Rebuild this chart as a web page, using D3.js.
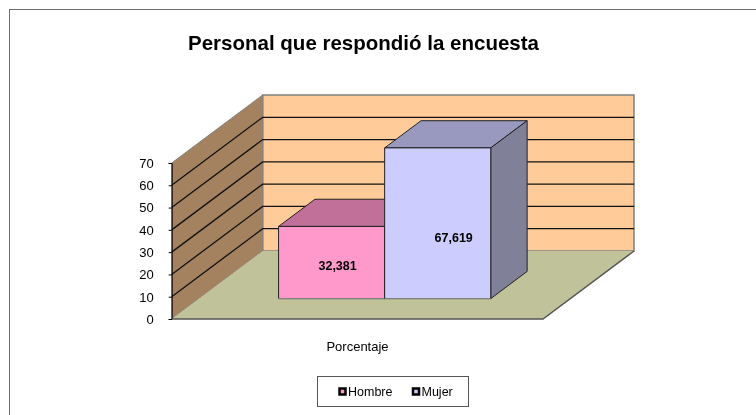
<!DOCTYPE html>
<html>
<head>
<meta charset="utf-8">
<script src="https://cdn.jsdelivr.net/npm/d3@7"></script>
<style>
  html, body { margin: 0; padding: 0; background: #fff; overflow: hidden; }
  svg { display: block; font-family: "Liberation Sans", Arial, sans-serif; filter: blur(0.35px); }
</style>
</head>
<body>
<svg id="chart" width="756" height="415"></svg>
<script>
const titleText = "Personal que respondió la encuesta"
const categories = ["Porcentaje"]
const seriesNames = ["Hombre", "Mujer"]
const seriesValues = [32.381, 67.619]
const valueLabels = ["32,381", "67,619"]
const tickValues = [0, 10, 20, 30, 40, 50, 60, 70]

const svg = d3.select("#chart")

// front plane of the 3d box, everything else is offset from it by depth
const x0 = 171.7, x1 = 543, yBase = 319, yTop = 163
const depthX = 91, depthY = -68
const barDepth = [0.30, 0.70]

const xBand = d3.scaleBand().domain(seriesNames).range([x0, x1]).paddingInner(0).paddingOuter(0.75)
const y = d3.scaleLinear().domain([0, 70]).range([yBase, yTop])

const colors = d3.scaleOrdinal().domain(seriesNames).range(["#ff99cc", "#ccccff"])
const topColors = d3.scaleOrdinal().domain(seriesNames).range(["#c07099", "#9999bf"])
const sideColors = d3.scaleOrdinal().domain(seriesNames).range(["#80607a", "#808099"])

const pt = (px, val, depth) => [px + depth * depthX, y(val) + depth * depthY]
const poly = pts => "M" + pts.map(p => p.join(",")).join("L") + "Z"

// outer frame, runs off the right and bottom of the picture
svg.append("rect").attr("x", 9.5).attr("y", 9.5).attr("width", 760).attr("height", 420)
  .attr("fill", "#fff").attr("stroke", "#6e6e6e").attr("stroke-width", 1)

svg.append("text").text(titleText)
  .attr("x", 363.5).attr("y", 50).attr("text-anchor", "middle")
  .style("font-size", "20.5px").style("font-weight", "bold").attr("fill", "#000")

// walls and floor
const wallStroke = "#808080"
svg.append("path")
  .attr("d", poly([pt(x0, 0, 1), pt(x1, 0, 1), pt(x1, 70, 1), pt(x0, 70, 1)]))
  .attr("fill", "#ffcc99").attr("stroke", wallStroke).attr("stroke-width", 1.5)
svg.append("path")
  .attr("d", poly([pt(x0, 0, 0), pt(x0, 0, 1), pt(x0, 70, 1), pt(x0, 70, 0)]))
  .attr("fill", "#a5825f").attr("stroke", wallStroke)
svg.append("path")
  .attr("d", poly([pt(x0, 0, 0), pt(x1, 0, 0), pt(x1, 0, 1), pt(x0, 0, 1)]))
  .attr("fill", "#c0c299").attr("stroke", "none")

// gridlines on side and back wall
const grid = svg.append("g").attr("fill", "none").attr("stroke", "#111").attr("stroke-width", 1.3)
tickValues.filter(t => t > 0 && t < 70).forEach(t => {
  grid.append("path").attr("d", d3.line()([pt(x0, t, 0), pt(x0, t, 1), pt(x1, t, 1)]))
})

// y axis on the front edge of the side wall
svg.append("g")
  .attr("transform", `translate(${x0},0)`)
  .call(d3.axisLeft(y).tickValues(tickValues).tickSize(3).tickPadding(15))
  .call(g => g.selectAll("text").attr("dy", "0.33em").style("font-size", "13px").style("font-family", "inherit").attr("fill", "#000"))
  .call(g => g.selectAll("line, path").attr("stroke", "#000"))

// front edge of the floor
svg.append("path")
  .attr("d", d3.line()([pt(x0, 0, 0), pt(x1, 0, 0), pt(x1, 0, 1)]))
  .attr("fill", "none").attr("stroke", "#555").attr("stroke-width", 1.5)

// bars, back to front
const bars = svg.selectAll("g.bar").data(seriesNames).join("g").attr("class", "bar")
  .attr("stroke", "#222").attr("stroke-width", 1).attr("stroke-linejoin", "round")

bars.each(function(name, i) {
  const g = d3.select(this)
  const a = xBand(name), b = a + xBand.bandwidth()
  const v = seriesValues[i]
  const [d0, d1] = barDepth
  g.append("path").attr("fill", topColors(name))
    .attr("d", poly([pt(a, v, d0), pt(b, v, d0), pt(b, v, d1), pt(a, v, d1)]))
  g.append("path").attr("fill", sideColors(name))
    .attr("d", poly([pt(b, 0, d0), pt(b, 0, d1), pt(b, v, d1), pt(b, v, d0)]))
  g.append("path").attr("fill", colors(name))
    .attr("d", poly([pt(a, 0, d0), pt(b, 0, d0), pt(b, v, d0), pt(a, v, d0)]))
  g.append("path").attr("fill", "none").attr("stroke", "#888")
    .attr("d", d3.line()([pt(a, 0, d0), pt(b, 0, d0)]))
})

// value labels, excel drops them off-centre on the front face
const labelShift = [[6, 3], [16, 15]]
svg.selectAll("text.value").data(seriesNames).join("text").attr("class", "value")
  .text((d, i) => valueLabels[i])
  .attr("x", (d, i) => pt(xBand(d) + xBand.bandwidth() / 2, 0, barDepth[0])[0] + labelShift[i][0])
  .attr("y", (d, i) => pt(0, seriesValues[i] / 2, barDepth[0])[1] + 4 + labelShift[i][1])
  .attr("text-anchor", "middle")
  .style("font-size", "12.5px").style("font-weight", "bold").attr("fill", "#000")

svg.append("text").text(categories[0])
  .attr("x", 357.5).attr("y", 351).attr("text-anchor", "middle")
  .style("font-size", "13px").attr("fill", "#000")

// legend
const legend = svg.append("g")
legend.append("rect").attr("x", 317.5).attr("y", 376.5).attr("width", 151).attr("height", 30)
  .attr("fill", "#fff").attr("stroke", "#555")
const legendX = d3.scaleOrdinal().domain(seriesNames).range([339.5, 413])
seriesNames.forEach(name => {
  legend.append("rect").attr("x", legendX(name)).attr("y", 388.5).attr("width", 6).attr("height", 6)
    .attr("fill", colors(name)).attr("stroke", "#000").attr("stroke-width", 2.5)
  legend.append("text").text(name)
    .attr("x", legendX(name) + 8.5).attr("y", 396)
    .style("font-size", "12.5px").attr("fill", "#000")
})
</script>
</body>
</html>
